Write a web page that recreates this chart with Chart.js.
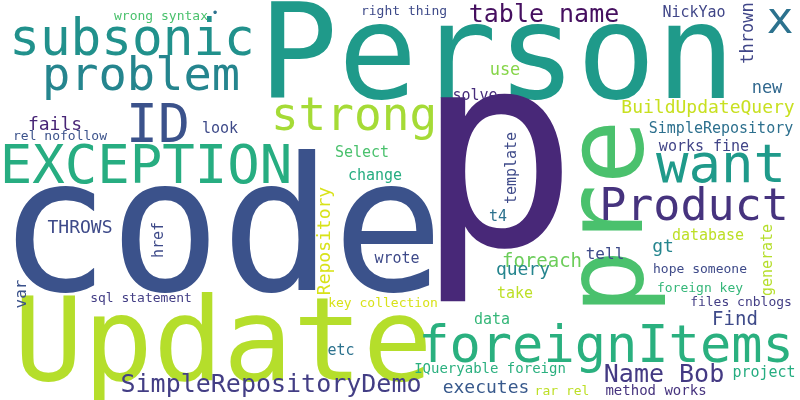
<!DOCTYPE html>
<html><head><meta charset="utf-8">
<script src="https://cdn.jsdelivr.net/npm/chart.js@4"></script>
<style>html,body{margin:0;padding:0;background:#fff}#c{display:block}</style>
</head><body>
<div style="width:800px;height:400px"><canvas id="c" width="800" height="400"></canvas></div>
<script>
const words = ["Person","p","code","Update","foreignItems","pre","subsonic","problem","ID","EXCEPTION","strong","want","x","Product","table name","SimpleRepositoryDemo","Name Bob","executes","foreach","query","BuildUpdateQuery","SimpleRepository","works fine","new","thrown","NickYao","right thing","wrong syntax","•","use","solve","fails","look","rel nofollow","Select","change","template","Repository","THROWS","var","href","sql statement","wrote","etc","data","IQueryable foreign","rar rel","method works","project","gt","tell","database","generate","hope someone","foreign key","files cnblogs","Find","key collection","take","t4"];
const xs = [497,497,221,223,606,642,132,141,158,146,354,721,780,694,544,271,664,486,542,523,708,721,704,767,753,694,404,161,215,505,475,55,220,60,362,375,516,330,80,26,163,141,397,341,492,490,562,656,764,663,605,708,772,700,700,741,735,383,515,498];
const ys = [98,245,290,380,362,217,55,90,142,183,130,182,33,220,22,392,382,393,267,275,113,133,151,93,33,17,15,20,17,75,100,130,133,140,157,180,168,241,233,294,240,302,263,355,324,373,395,395,377,252,259,240,260,273,292,306,325,307,298,221];
const sizes = [132,270,185,116,52,108,51,47,53,54,46,54,45,45,25,25,25,18,19,18,18,15,15,17,17,15,13,13,12,17,15,18,15,13,15,15,15,18,18,16,15,13,15,15,15,14,13,14,15,18,16,15,15,13,13,13,19,13,15,15];
const rotations = [0,0,0,0,0,-90,0,0,0,0,0,0,0,0,0,0,0,0,0,0,0,0,0,0,-90,0,0,0,0,0,0,0,0,0,0,0,-90,-90,0,-90,-90,0,0,0,0,0,0,0,0,0,0,0,-90,0,0,0,0,0,0,0];
const colors = ["#1f9a8a","#482878","#3b528b","#b5de2b","#2ab07f","#4ac16d","#21918c","#25858e","#3b528b","#27ad81","#a5db36","#1f9a8a","#2c728e","#46337e","#450f5f","#433e85","#443a83","#38598c","#6ccd5a","#25858e","#c8e020","#2d708e","#414487","#31688e","#404688","#404688","#3e4a89","#4ac16d","#2c728e","#86d549","#472d7b","#482576","#3e4a89","#3b528b","#4ac16d","#26ad81","#3e4a89","#d8e219","#3e4a89","#3b528b","#3e4a89","#433e85","#3e4a89","#2c728e","#35b779","#2ab07f","#bddf26","#46337e","#26ad81","#25858e","#3e4a89","#bddf26","#b5de2b","#3e4a89","#35b779","#433e85","#3e4a89","#d8e219","#bddf26","#2c728e"];

const textPlugin = {
  id: 'wordText',
  afterDatasetsDraw(chart) {
    const ctx = chart.ctx, xS = chart.scales.x, yS = chart.scales.y;
    const meta = chart.getDatasetMeta(0);
    meta.data.forEach((pt, i) => {
      const d = chart.data.datasets[0].data[i];
      ctx.save();
      ctx.translate(xS.getPixelForValue(d.x), yS.getPixelForValue(d.y));
      ctx.rotate(d.r * Math.PI / 180);
      ctx.font = d.s + 'px "DejaVu Sans Mono"';
      ctx.fillStyle = d.c;
      ctx.textAlign = 'center';
      ctx.textBaseline = 'alphabetic';
      ctx.fillText(d.w, 0, 0);
      ctx.restore();
    });
  }
};

new Chart(document.getElementById('c'), {
  type: 'scatter',
  data: { datasets: [{
    data: words.map((w, i) => ({x: xs[i], y: ys[i], w, s: sizes[i], r: rotations[i], c: colors[i]})),
    pointRadius: 0, pointHoverRadius: 0
  }]},
  options: {
    responsive: false, animation: false,
    layout: { padding: 0 },
    plugins: { legend: {display: false}, tooltip: {enabled: false} },
    scales: {
      x: { type: 'linear', min: 0, max: 800, display: false },
      y: { type: 'linear', min: 0, max: 400, reverse: true, display: false }
    }
  },
  plugins: [textPlugin]
});
</script>
</body></html>
